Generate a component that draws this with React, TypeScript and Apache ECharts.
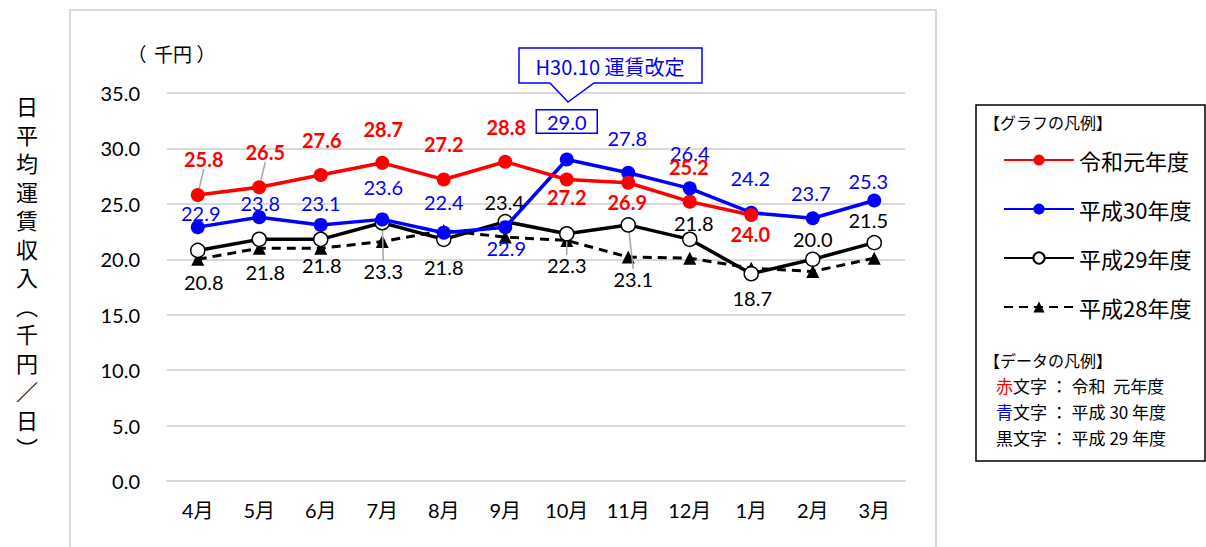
import React, { useEffect, useRef } from "react";
import * as echarts from "echarts";

const months = ["4月", "5月", "6月", "7月", "8月", "9月", "10月", "11月", "12月", "1月", "2月", "3月"];
const reiwa1 = [25.8, 26.5, 27.6, 28.7, 27.2, 28.8, 27.2, 26.9, 25.2, 24.0, null, null];
const h30 = [22.9, 23.8, 23.1, 23.6, 22.4, 22.9, 29.0, 27.8, 26.4, 24.2, 23.7, 25.3];
const h29 = [20.8, 21.8, 21.8, 23.3, 21.8, 23.4, 22.3, 23.1, 21.8, 18.7, 20.0, 21.5];
const h28 = [20.0, 21.0, 21.0, 21.6, 22.6, 22.0, 21.7, 20.2, 20.1, 19.2, 18.9, 20.1];
const yTicks = [0, 5, 10, 15, 20, 25, 30, 35];
const seriesNames = ["令和元年度", "平成30年度", "平成29年度", "平成28年度"];

// label offsets (dx, dy) from each point, in px
const redOff = [[6, -36], [6, -35], [1, -35], [1, -34], [0, -35], [1, -35], [0, 18], [-1, 19], [-1, -35], [-1, 19], [0, 0], [0, 0]];
const blueOff = [[3, -14], [1, -14], [0, -22], [1, -32], [0, -31], [1, 21], [0, -38], [-1, -35], [0, -35], [-1, -35], [-2, -25], [-6, -20]];
const blackOff = [[6, 32], [6, 33], [1, 26], [1, 48], [0, 28], [-1, -20], [0, 31], [5, 54], [4, -16], [1, 24], [0, -20], [-6, -23]];
const redLeader = [0, 1];
const blackLeader = [3, 6, 7];

const NUM_FONT = "Lato, 'Noto Sans CJK JP', sans-serif";
const JP_FONT = "'Noto Sans CJK JP', sans-serif";

export default function App() {
  const ref = useRef<HTMLDivElement>(null);
  useEffect(() => {
    if (!ref.current) return;
    const chart = echarts.init(ref.current, null, { renderer: "svg" });
    const leaderLine = { show: true, lineStyle: { color: "#a6a6a6", width: 1.5 } };
    const mkData = (vals: (number | null)[], leaders: number[], extra?: (i: number) => any) =>
      vals.map((v, i) => {
        const d: any = { value: v };
        if (leaders.includes(i)) d.labelLine = leaderLine;
        if (extra) Object.assign(d, extra(i));
        return d;
      });
    const fmt = (p: any) => (p.value == null ? "" : Number(p.value).toFixed(1));
    const unitText = (text: string, x: number) => ({
      type: "text",
      x,
      y: 53,
      style: { text, fill: "#000", font: `19px ${JP_FONT}`, align: "center", verticalAlign: "middle" },
    });

    const option: any = {
      animation: false,
      backgroundColor: "#fff",
      grid: { left: 167, right: 301, top: 93, bottom: 66, containLabel: false },
      xAxis: {
        type: "category",
        data: months,
        boundaryGap: true,
        axisLine: { show: true, lineStyle: { color: "#d9d9d9", width: 2 } },
        axisTick: { show: false },
        axisLabel: { color: "#000", fontSize: 20, fontFamily: NUM_FONT, margin: 19 },
      },
      yAxis: {
        type: "value",
        min: yTicks[0],
        max: yTicks[yTicks.length - 1],
        interval: 5,
        axisLine: { show: false },
        axisTick: { show: false },
        splitLine: { lineStyle: { color: "#d9d9d9", width: 2 } },
        axisLabel: { color: "#000", fontSize: 20, fontFamily: NUM_FONT, margin: 27, formatter: (v: number) => v.toFixed(1) },
      },
      legend: {
        orient: "vertical",
        left: 998,
        top: 144,
        itemWidth: 70,
        itemHeight: 14,
        itemGap: 27,
        data: seriesNames,
        textStyle: { color: "#000", fontSize: 22, fontFamily: JP_FONT },
      },
      series: [
        {
          name: seriesNames[3],
          type: "line",
          data: h28,
          symbol: "triangle",
          symbolSize: 13,
          itemStyle: { color: "#000" },
          lineStyle: { color: "#000", width: 3, type: [9, 6] },
          z: 2,
        },
        {
          name: seriesNames[2],
          type: "line",
          data: mkData(h29, blackLeader),
          symbol: "circle",
          symbolSize: 14,
          itemStyle: { color: "#fff", borderColor: "#000", borderWidth: 1.5 },
          lineStyle: { color: "#000", width: 3.5 },
          label: { show: true, position: "inside", color: "#000", fontSize: 20, fontFamily: NUM_FONT, formatter: fmt },
          labelLayout: (p: any) => ({ dx: blackOff[p.dataIndex][0], dy: blackOff[p.dataIndex][1] }),
          z: 3,
        },
        {
          name: seriesNames[1],
          type: "line",
          data: mkData(h30, [], (i) =>
            i === 6
              ? { label: { borderColor: "#0000ff", borderWidth: 1.5, padding: [1, 10], backgroundColor: "#fff" } }
              : {}
          ),
          symbol: "circle",
          symbolSize: 14,
          itemStyle: { color: "#0000ff" },
          lineStyle: { color: "#0000ff", width: 3.5 },
          label: { show: true, position: "inside", color: "#0000ff", fontSize: 20, fontFamily: NUM_FONT, formatter: fmt },
          labelLayout: (p: any) => ({ dx: blueOff[p.dataIndex][0], dy: blueOff[p.dataIndex][1] }),
          z: 4,
        },
        {
          name: seriesNames[0],
          type: "line",
          data: mkData(reiwa1, redLeader),
          symbol: "circle",
          symbolSize: 14,
          itemStyle: { color: "#ff0000" },
          lineStyle: { color: "#ff0000", width: 3.5 },
          label: { show: true, position: "inside", color: "#ff0000", fontWeight: "bold", fontSize: 20, fontFamily: NUM_FONT, formatter: fmt },
          labelLayout: (p: any) => ({ dx: redOff[p.dataIndex][0], dy: redOff[p.dataIndex][1] }),
          z: 5,
        },
      ],
      graphic: [
        {
          type: "rect",
          shape: { x: 70, y: 10, width: 866, height: 560 },
          style: { fill: "none", stroke: "#d9d9d9", lineWidth: 2 },
          z: -10,
          silent: true,
        },
        unitText("（", 137),
        unitText("千円", 173),
        unitText("）", 206),
        {
          type: "text",
          x: 27,
          y: 276,
          style: {
            text: "日平均運賃収入︵千円／日︶".split("").join("\n"),
            fill: "#000",
            font: `22px ${JP_FONT}`,
            lineHeight: 28.5,
            align: "center",
            verticalAlign: "middle",
          },
        },
        {
          type: "polygon",
          shape: {
            points: [[519, 48], [702, 48], [702, 83], [594, 83], [568, 102], [550, 83], [519, 83]],
          },
          style: { fill: "#fff", stroke: "#0000ff", lineWidth: 1.5 },
          z: 20,
        },
        {
          type: "text",
          x: 610,
          y: 66,
          z: 21,
          style: { text: "H30.10 運賃改定", fill: "#0000ff", font: `20px ${JP_FONT}`, align: "center", verticalAlign: "middle" },
        },
        {
          type: "rect",
          shape: { x: 976, y: 105, width: 229, height: 356 },
          style: { fill: "none", stroke: "#000", lineWidth: 1.5 },
        },
        {
          type: "text",
          x: 984,
          y: 122,
          style: { text: "【グラフの凡例】", fill: "#000", font: `16px ${JP_FONT}`, verticalAlign: "middle" },
        },
        {
          type: "text",
          x: 984,
          y: 360,
          style: { text: "【データの凡例】", fill: "#000", font: `16px ${JP_FONT}`, verticalAlign: "middle" },
        },
        {
          type: "text",
          x: 996,
          y: 385,
          style: {
            text: "{r|赤}文字 ： 令和  元年度",
            fill: "#000",
            font: `17px ${JP_FONT}`,
            verticalAlign: "middle",
            rich: { r: { fill: "#ff0000", font: `17px ${JP_FONT}` } },
          },
        },
        {
          type: "text",
          x: 996,
          y: 411,
          style: {
            text: "{b|青}文字 ： 平成 30 年度",
            fill: "#000",
            font: `17px ${JP_FONT}`,
            verticalAlign: "middle",
            rich: { b: { fill: "#0000ff", font: `17px ${JP_FONT}` } },
          },
        },
        {
          type: "text",
          x: 996,
          y: 437,
          style: { text: "黒文字 ： 平成 29 年度", fill: "#000", font: `17px ${JP_FONT}`, verticalAlign: "middle" },
        },
      ],
    };
    chart.setOption(option);
    return () => chart.dispose();
  }, []);
  return <div ref={ref} style={{ width: 1206, height: 547, position: "absolute", left: 0, top: 0 }} />;
}
